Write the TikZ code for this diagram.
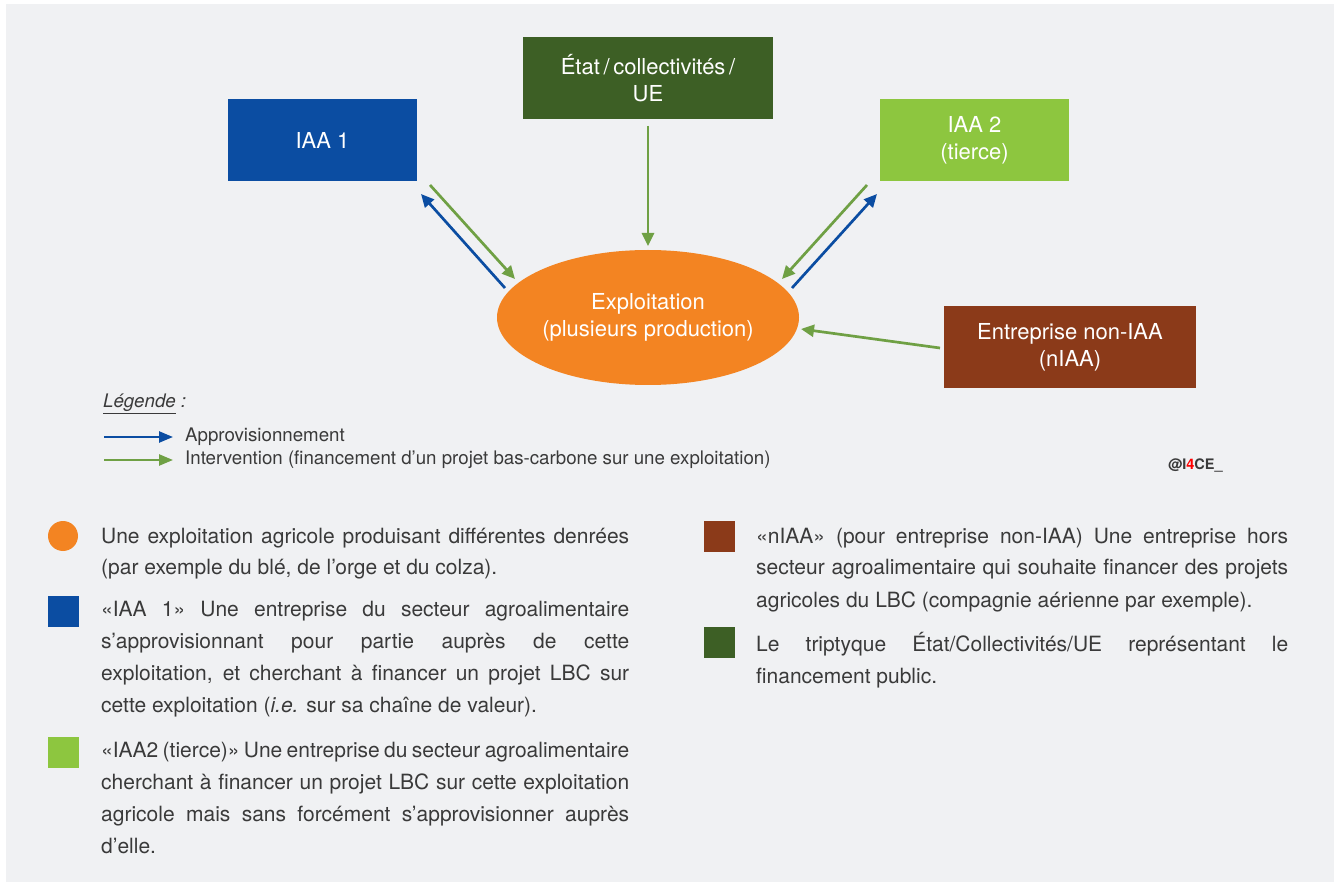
\documentclass[tikz,border=0pt]{standalone}
\usepackage{fontspec}
\setmainfont{TeX Gyre Heros}
\usetikzlibrary{arrows.meta,shapes.geometric}
\definecolor{bgc}{HTML}{F0F1F3}
\definecolor{cblue}{HTML}{0B4DA2}
\definecolor{cdgreen}{HTML}{3D5F25}
\definecolor{clgreen}{HTML}{8DC63F}
\definecolor{cbrown}{HTML}{8B3A19}
\definecolor{corange}{HTML}{F38422}
\definecolor{carrg}{HTML}{6FA044}
\definecolor{ctext}{HTML}{3A3A3A}
\newcommand{\bodyfont}{\fontsize{21}{32}\selectfont}
\newcommand{\jline}[1]{\makebox[\linewidth][s]{#1}\par}
\newcommand{\lline}[1]{\makebox[\linewidth][l]{#1}\par}
\begin{document}
\begin{tikzpicture}[x=1pt,y=-1pt,
  boxnode/.style={inner sep=0pt, align=center, text=white, font=\fontsize{22}{27}\selectfont},
  arr/.style={line width=2.7pt, -{Triangle[length=13pt,width=12pt]}},
  larr/.style={line width=2.5pt, -{Triangle[length=14pt,width=11pt]}},
  legtext/.style={anchor=base west, inner sep=0pt, text=ctext, font=\fontsize{18.7}{20}\selectfont},
  para/.style={anchor=base west, inner sep=0pt, text=ctext},
  sq/.style={inner sep=0pt, minimum size=31pt}]
\useasboundingbox (0,0) rectangle (1334,882);
\fill[white] (0,0) rectangle (1334,882);
\fill[bgc] (6,4) rectangle (1334,882);

% boxes
\node[boxnode, fill=cblue, minimum width=189pt, minimum height=82pt] (iaa1) at (322.5,140) {IAA 1};
\node[boxnode, fill=cdgreen, minimum width=250pt, minimum height=82pt] (etat) at (648,78) {État\,/\,collectivités\,/\\UE};
\node[boxnode, fill=clgreen, minimum width=189pt, minimum height=82pt] (iaa2) at (974.5,140) {IAA 2\\(tierce)};
\node[boxnode, fill=cbrown, minimum width=252pt, minimum height=82pt] (niaa) at (1070,347) {Entreprise non-IAA\\(nIAA)};
\node[boxnode, ellipse, fill=corange, minimum width=302pt, minimum height=135pt] (expl) at (648,317.5) {Exploitation\\(plusieurs production)};

% arrow end points
\coordinate (b1s) at (505,288); \coordinate (b1e) at (421,194);
\coordinate (g1s) at (430,185); \coordinate (g1e) at (515,279);
\coordinate (g0s) at (648,126); \coordinate (g0e) at (648,246);
\coordinate (g2s) at (867,185); \coordinate (g2e) at (782,279);
\coordinate (b2s) at (792,288); \coordinate (b2e) at (877,194);
\coordinate (g3s) at (940,348); \coordinate (g3e) at (801,329);

\draw[arr, cblue] (b1s) -- (b1e);
\draw[arr, carrg] (g1s) -- (g1e);
\draw[arr, carrg] (g0s) -- (g0e);
\draw[arr, carrg] (g2s) -- (g2e);
\draw[arr, cblue] (b2s) -- (b2e);
\draw[arr, carrg] (g3s) -- (g3e);

% legend
\node[legtext, font=\fontsize{18.7}{20}\selectfont\itshape] (leg) at (103,408) {\underline{Légende} :};
\coordinate (la1s) at (104,437); \coordinate (la1e) at (173,437);
\coordinate (la2s) at (104,460); \coordinate (la2e) at (173,460);
\draw[larr, cblue] (la1s) -- (la1e);
\draw[larr, carrg] (la2s) -- (la2e);
\node[legtext] (lt1) at (185,442) {Approvisionnement};
\node[legtext] (lt2) at (185,465) {Intervention (financement d’un projet bas-carbone sur une exploitation)};
\node[anchor=base west, inner sep=0pt, text=ctext, font=\fontsize{14.5}{16}\selectfont\bfseries] (logo) at (1168,470) {@I\textcolor{red}{4}CE\_};

% bottom legend markers
\fill[corange] (63,536) circle (15);
\node[sq, fill=cblue, anchor=north west] (sq1) at (48,596) {};
\node[sq, fill=clgreen, anchor=north west] (sq2) at (48,737) {};
\node[sq, fill=cbrown, anchor=north west] (sq3) at (704,521) {};
\node[sq, fill=cdgreen, anchor=north west] (sq4) at (704,627) {};

% paragraphs
\node[para] (p1) at (101,543) {\parbox[t]{528pt}{\bodyfont
\jline{Une exploitation agricole produisant différentes denrées}
\lline{(par exemple du blé, de l’orge et du colza).}}};
\node[para] (p2) at (101,616) {\parbox[t]{528pt}{\bodyfont
\jline{«IAA 1» Une entreprise du secteur agroalimentaire}
\jline{s’approvisionnant pour partie auprès de cette}
\jline{exploitation, et cherchant à financer un projet LBC sur}
\lline{cette exploitation (\textit{i.e.} sur sa chaîne de valeur).}}};
\node[para] (p3) at (101,757) {\parbox[t]{528pt}{\bodyfont
\jline{«IAA2 (tierce)» Une entreprise du secteur agroalimentaire}
\jline{cherchant à financer un projet LBC sur cette exploitation}
\jline{agricole mais sans forcément s’approvisionner auprès}
\lline{d’elle.}}};
\node[para] (p4) at (756,543) {\parbox[t]{532pt}{\bodyfont
\jline{«nIAA» (pour entreprise non-IAA) Une entreprise hors}
\jline{secteur agroalimentaire qui souhaite financer des projets}
\lline{agricoles du LBC (compagnie aérienne par exemple).}}};
\node[para] (p5) at (756,651) {\parbox[t]{532pt}{\bodyfont
\jline{Le triptyque État/Collectivités/UE représentant le}
\lline{financement public.}}};
\end{tikzpicture}
\end{document}
